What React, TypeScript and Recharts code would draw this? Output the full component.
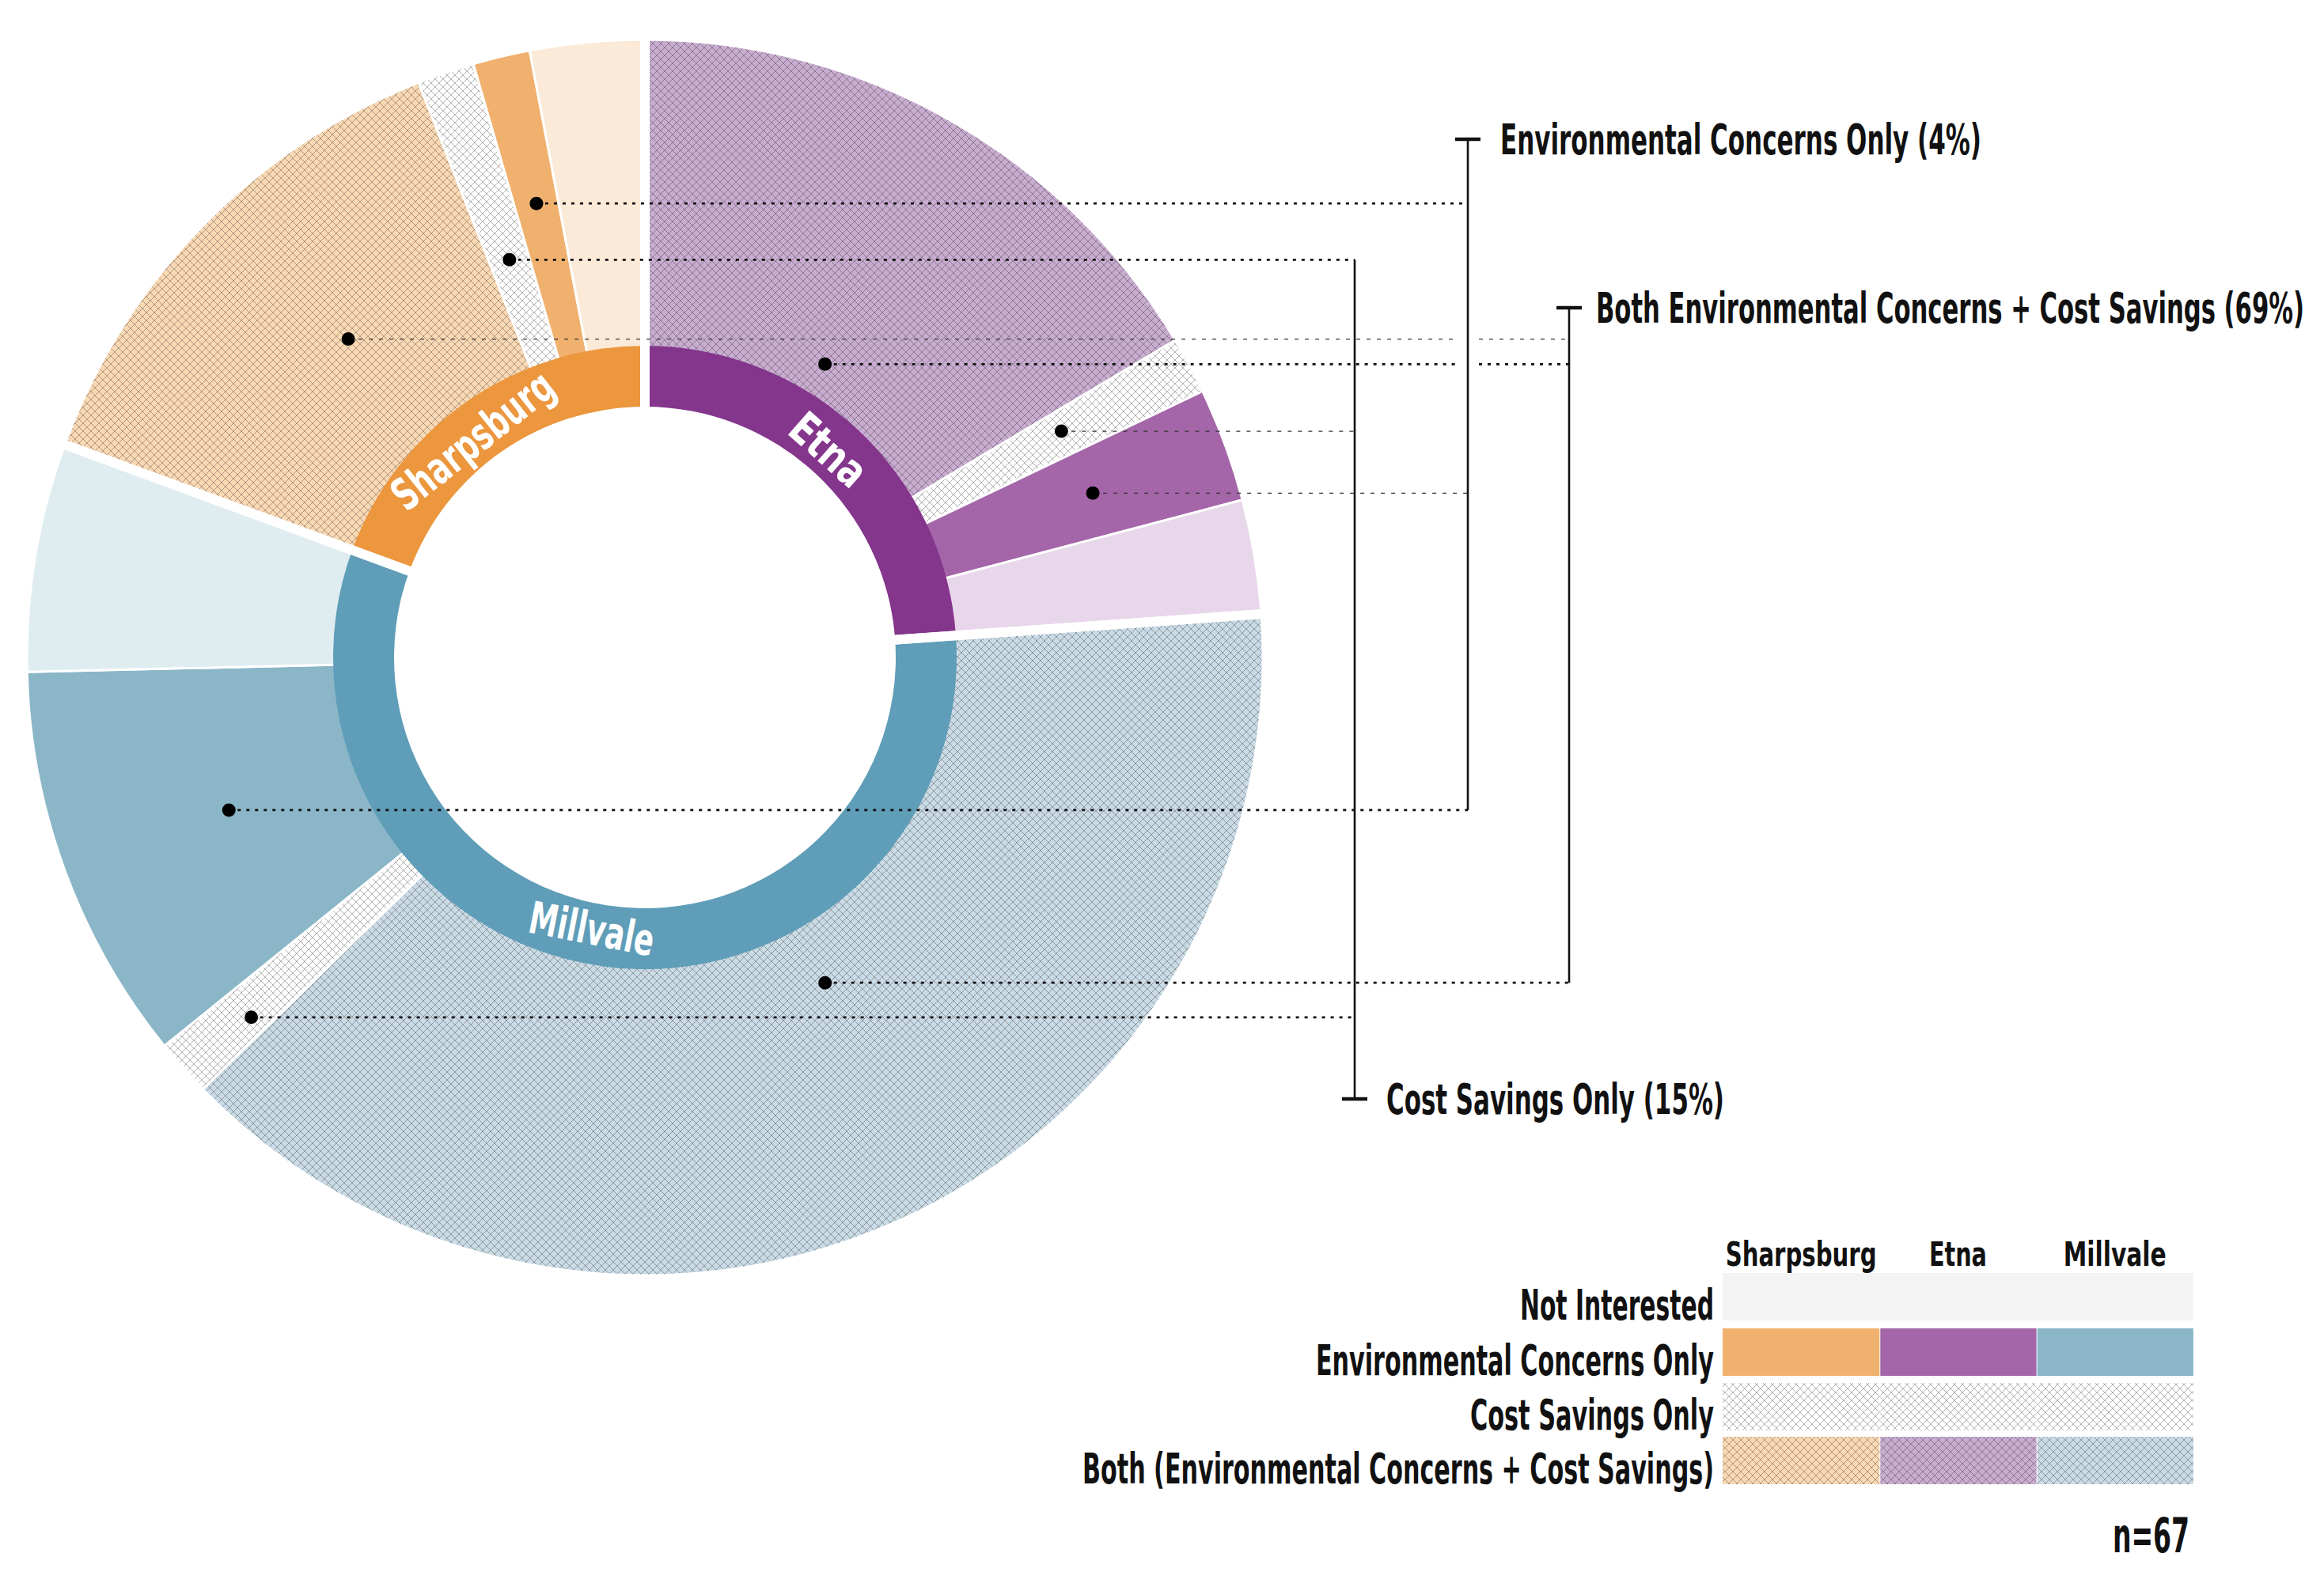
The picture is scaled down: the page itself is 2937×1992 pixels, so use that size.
import { PieChart, Pie, Cell } from 'recharts';

// districts, clockwise from 12 o'clock
const districts = ['Etna', 'Millvale', 'Sharpsburg'];
const districtTotals = [16, 38, 13];

// answer types, clockwise order inside each district
const answerTypes = ['both', 'cost', 'env', 'none'];
const etnaAnswers = [11, 1, 2, 2];
const millvaleAnswers = [26, 1, 7, 4];
const sharpsburgAnswers = [9, 1, 1, 2];

const legendColumns = ['Sharpsburg', 'Etna', 'Millvale'];
const legendRows = [
  'Not Interested',
  'Environmental Concerns Only',
  'Cost Savings Only',
  'Both (Environmental Concerns + Cost Savings)',
];
const legendRowTypes = ['none', 'env', 'cost', 'both'];
const calloutTitles: Record<string, string> = {
  env: 'Environmental Concerns Only (4%)',
  both: 'Both Environmental Concerns + Cost Savings (69%)',
  cost: 'Cost Savings Only (15%)',
};
const sampleNote = 'n=67';

const W = 2937;
const H = 1992;
const CX = 815;
const CY = 831;
const FONT = "'DejaVu Sans Condensed', 'Liberation Sans Narrow', 'Roboto', sans-serif";
const SX = 0.62; // horizontal squeeze to get a tall, narrow face

const COLORS: Record<string, Record<string, string>> = {
  Sharpsburg: { ring: '#EC963D', env: '#F0B16F', both: '#F9D8B4', none: '#FBEAD8' },
  Etna: { ring: '#84358C', env: '#A466A8', both: '#C9ADD0', none: '#E8D7EA' },
  Millvale: { ring: '#5F9DB8', env: '#8AB6C8', both: '#CADBE5', none: '#DFEDF1' },
};

const answersBy: Record<string, number[]> = {
  Etna: etnaAnswers,
  Millvale: millvaleAnswers,
  Sharpsburg: sharpsburgAnswers,
};

const outerData = districts.flatMap((d) =>
  answerTypes.map((t, i) => ({ key: `${d}-${t}`, district: d, type: t, value: answersBy[d][i] })),
);
const innerData = districts.map((d, i) => ({ name: d, value: districtTotals[i] }));
const TOTAL = outerData.reduce((s, d) => s + d.value, 0);

function fillFor(district: string, type: string) {
  if (type === 'cost') return 'url(#hatch-plain)';
  if (type === 'both') return `url(#hatch-${district})`;
  return COLORS[district][type];
}

// where each leader dot sits inside its slice, and which bracket it feeds
const CALLOUTS: Record<string, { group: string; r: number; shift: number; weight: 'dark' | 'light' }> = {
  'Etna-both': { group: 'both', r: 435, shift: 2, weight: 'dark' },
  'Etna-cost': { group: 'cost', r: 599, shift: -0.3, weight: 'light' },
  'Etna-env': { group: 'env', r: 603, shift: 0, weight: 'light' },
  'Millvale-both': { group: 'both', r: 470, shift: -4.8, weight: 'dark' },
  'Millvale-cost': { group: 'cost', r: 674, shift: -0.8, weight: 'dark' },
  'Millvale-env': { group: 'env', r: 560, shift: 0, weight: 'dark' },
  'Sharpsburg-both': { group: 'both', r: 550, shift: 2.7, weight: 'light' },
  'Sharpsburg-cost': { group: 'cost', r: 531, shift: 0, weight: 'dark' },
  'Sharpsburg-env': { group: 'env', r: 590, shift: 0, weight: 'dark' },
};

const BRACKETS: Record<string, { x: number; tickY: number; labelX: number; width: number }> = {
  env: { x: 1855, tickY: 176, labelX: 1896, width: 608 },
  both: { x: 1983, tickY: 389, labelX: 2017, width: 895 },
  cost: { x: 1712, tickY: 1389, labelX: 1752, width: 427 },
};

const LINE_STYLE = {
  dark: { stroke: '#111', strokeWidth: 2.8, strokeDasharray: '4 7' },
  light: { stroke: '#333', strokeWidth: 1.3, strokeDasharray: '5 8' },
};

function Txt({ x, y, w, size, children, fill = '#111', bold = true, anchor = 'start', rotate, baseline }: any) {
  const left = anchor === 'end' ? x - w : anchor === 'middle' ? x - w / 2 : x;
  const tf = `${rotate ? `rotate(${rotate[0]} ${rotate[1]} ${rotate[2]}) ` : ''}scale(${SX} 1)`;
  return (
    <text
      x={left / SX}
      y={y}
      fontSize={size}
      fontFamily={FONT}
      fontWeight={bold ? 700 : 400}
      fill={fill}
      textLength={w / SX}
      lengthAdjust="spacingAndGlyphs"
      transform={tf}
      dominantBaseline={baseline}
    >
      {children}
    </text>
  );
}

const RING_LABEL_R = 350;
const RING_LABEL_W: Record<string, number> = { Etna: 110, Millvale: 160, Sharpsburg: 245 };
const RING_LABEL_SHIFT: Record<string, number> = { Etna: -1.5, Millvale: 3, Sharpsburg: -3.5 };

function ringLabel(props: any) {
  const { cx, cy, midAngle, name } = props;
  const ang = midAngle - RING_LABEL_SHIFT[name];
  const rad = (ang * Math.PI) / 180;
  const x = cx + RING_LABEL_R * Math.cos(rad);
  const y = cy - RING_LABEL_R * Math.sin(rad);
  let rot = (((90 - ang) % 360) + 360) % 360;
  if (rot > 180) rot -= 360;
  if (rot > 90) rot -= 180;
  if (rot < -90) rot += 180;
  return (
    <Txt
      key={name}
      x={x}
      y={y}
      w={RING_LABEL_W[name]}
      size={56}
      fill="#fff"
      anchor="middle"
      baseline="central"
      rotate={[rot, x, y]}
    >
      {name}
    </Txt>
  );
}

function calloutPoints() {
  let cum = 0;
  const pts: { key: string; x: number; y: number; group: string; weight: 'dark' | 'light' }[] = [];
  outerData.forEach((d) => {
    const mid = ((cum + d.value / 2) / TOTAL) * 360;
    cum += d.value;
    const c = CALLOUTS[d.key];
    if (!c) return;
    const b = ((mid + c.shift) * Math.PI) / 180;
    pts.push({ key: d.key, x: CX + c.r * Math.sin(b), y: CY - c.r * Math.cos(b), group: c.group, weight: c.weight });
  });
  return pts;
}

function Callouts() {
  const pts = calloutPoints();
  const spans: Record<string, [number, number]> = {};
  Object.keys(BRACKETS).forEach((g) => {
    const ys = pts.filter((p) => p.group === g).map((p) => p.y).concat(BRACKETS[g].tickY);
    spans[g] = [Math.min(...ys), Math.max(...ys)];
  });
  const env = BRACKETS.env;
  return (
    <g>
      {pts.map((p) => {
        const bx = BRACKETS[p.group].x;
        const st = LINE_STYLE[p.weight];
        const breakAtEnv = p.group === 'both' && p.y > spans.env[0] && p.y < spans.env[1];
        return (
          <g key={p.key}>
            {breakAtEnv ? (
              <>
                <line x1={p.x} y1={p.y} x2={env.x - 14} y2={p.y} {...st} />
                <line x1={env.x + 14} y1={p.y} x2={bx} y2={p.y} {...st} />
              </>
            ) : (
              <line x1={p.x} y1={p.y} x2={bx} y2={p.y} {...st} />
            )}
            <circle cx={p.x} cy={p.y} r={8.5} fill="#000" />
          </g>
        );
      })}
      {Object.keys(BRACKETS).map((g) => {
        const b = BRACKETS[g];
        return (
          <g key={g}>
            <line x1={b.x} y1={spans[g][0]} x2={b.x} y2={spans[g][1]} stroke="#111" strokeWidth={2.6} />
            <line x1={b.x - 16} y1={b.tickY} x2={b.x + 16} y2={b.tickY} stroke="#111" strokeWidth={4.5} />
            <Txt x={b.labelX} y={b.tickY + 19} w={b.width} size={53}>
              {calloutTitles[g]}
            </Txt>
          </g>
        );
      })}
    </g>
  );
}

const LEGEND = { left: 2177, colW: 198.3, rowTops: [1609, 1679, 1748, 1816], rowH: 60, labelRight: 2166, headerY: 1600 };
const LEGEND_LABEL_W = [245, 503, 308, 798];
const LEGEND_HEADER_W = [191, 73, 130];

function Legend() {
  return (
    <g>
      {legendColumns.map((c, i) => (
        <Txt key={c} x={LEGEND.left + LEGEND.colW * (i + 0.5)} y={LEGEND.headerY} w={LEGEND_HEADER_W[i]} size={42} anchor="middle">
          {c}
        </Txt>
      ))}
      {legendRows.map((label, r) => {
        const top = LEGEND.rowTops[r];
        const type = legendRowTypes[r];
        return (
          <g key={label}>
            <Txt x={LEGEND.labelRight} y={top + LEGEND.rowH - 1} w={LEGEND_LABEL_W[r]} size={53} anchor="end">
              {label}
            </Txt>
            {type === 'none' ? (
              <rect x={LEGEND.left} y={top} width={LEGEND.colW * 3} height={LEGEND.rowH} fill="#F3F3F3" />
            ) : (
              legendColumns.map((c, i) => (
                <rect
                  key={c}
                  x={LEGEND.left + LEGEND.colW * i + (i ? 1 : 0)}
                  y={top}
                  width={LEGEND.colW - (i ? 1 : 0)}
                  height={LEGEND.rowH}
                  fill={fillFor(c, type)}
                />
              ))
            )}
          </g>
        );
      })}
      <Txt x={2670} y={1962} w={97} size={61}>
        {sampleNote}
      </Txt>
    </g>
  );
}

export default function App() {
  const patterns = [
    ...districts.map((d) => ({ id: `hatch-${d}`, bg: COLORS[d].both })),
    { id: 'hatch-plain', bg: '#ffffff' },
  ];
  return (
    <div style={{ position: 'absolute', left: 0, top: 0, width: W, height: H, background: '#fff' }}>
      <PieChart width={W} height={H} margin={{ top: 0, right: 0, bottom: 0, left: 0 }}>
        <defs>
          {patterns.map((p) => (
            <pattern key={p.id} id={p.id} patternUnits="userSpaceOnUse" width={10} height={10}>
              <rect width={10} height={10} fill={p.bg} />
              <path d="M0,0 L10,10 M10,0 L0,10" stroke="#000" strokeOpacity={0.34} strokeWidth={0.9} />
            </pattern>
          ))}
        </defs>
        <Pie
          data={outerData}
          dataKey="value"
          nameKey="key"
          cx={CX}
          cy={CY}
          innerRadius={375}
          outerRadius={781}
          startAngle={90}
          endAngle={-270}
          stroke="#fff"
          strokeWidth={3}
          isAnimationActive={false}
        >
          {outerData.map((d) => (
            <Cell key={d.key} fill={fillFor(d.district, d.type)} stroke="#fff" strokeWidth={3} />
          ))}
        </Pie>
        <Pie
          data={innerData}
          dataKey="value"
          nameKey="name"
          cx={CX}
          cy={CY}
          innerRadius={317}
          outerRadius={394}
          startAngle={90}
          endAngle={-270}
          stroke="none"
          label={ringLabel}
          labelLine={false}
          isAnimationActive={false}
        >
          {innerData.map((d) => (
            <Cell key={d.name} fill={COLORS[d.name].ring} stroke="none" />
          ))}
        </Pie>
        <Pie
          data={innerData}
          dataKey="value"
          cx={CX}
          cy={CY}
          innerRadius={200}
          outerRadius={789}
          startAngle={90}
          endAngle={-270}
          fill="none"
          stroke="#fff"
          strokeWidth={12}
          label={(p: any) => (p.index === 0 ? <Callouts key="callouts" /> : null)}
          labelLine={false}
          isAnimationActive={false}
        >
          {innerData.map((d) => (
            <Cell key={d.name} fill="none" stroke="#fff" strokeWidth={12} />
          ))}
        </Pie>
        <Legend />
      </PieChart>
    </div>
  );
}
